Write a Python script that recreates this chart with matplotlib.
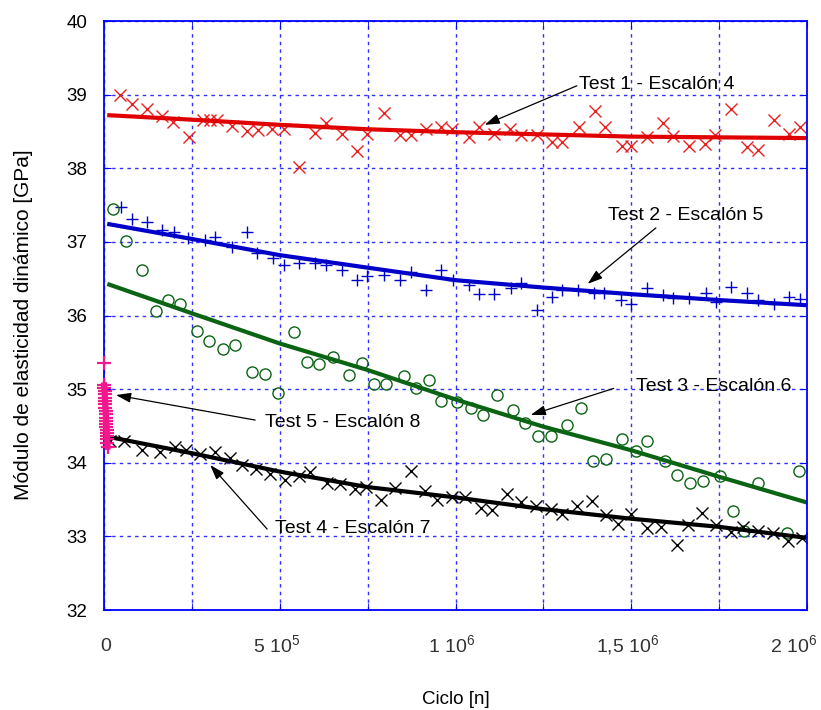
import matplotlib
matplotlib.use('Agg')
import matplotlib.pyplot as plt
from matplotlib.ticker import FixedLocator, NullFormatter

plt.rcParams['font.family'] = ['Liberation Sans', 'DejaVu Sans']
plt.rcParams['mathtext.fontset'] = 'custom'
plt.rcParams['mathtext.rm'] = 'Liberation Sans'

# Test 1 - Escalon 4 (red x)
t1_x = [45.6e3, 79e3, 122e3, 166e3, 197e3, 242e3, 283e3, 302e3, 321e3, 364e3, 406e3, 437e3, 479e3, 511e3,
        556e3, 601e3, 632e3, 677e3, 720e3, 748e3, 796e3, 841e3, 872e3, 915e3, 959e3, 991e3, 1038e3, 1066e3,
        1109e3, 1155e3, 1185e3, 1231e3, 1275e3, 1304e3, 1351e3, 1396e3, 1425e3, 1475e3, 1500e3, 1544e3,
        1589e3, 1620e3, 1665e3, 1709e3, 1738e3, 1783e3, 1829e3, 1860e3, 1905e3, 1950e3, 1981e3]
t1_y = [39.0, 38.87, 38.80, 38.71, 38.63, 38.42, 38.65, 38.65, 38.65, 38.57, 38.50, 38.52, 38.54, 38.54,
        38.02, 38.48, 38.62, 38.47, 38.24, 38.47, 38.75, 38.45, 38.45, 38.54, 38.56, 38.54, 38.42, 38.56,
        38.46, 38.53, 38.45, 38.45, 38.36, 38.36, 38.56, 38.78, 38.56, 38.30, 38.30, 38.42,
        38.61, 38.44, 38.30, 38.33, 38.45, 38.81, 38.29, 38.25, 38.66, 38.46, 38.56]

# Test 2 - Escalon 5 (blue +)
t2_x = [47.5e3, 79e3, 122e3, 164e3, 199e3, 240e3, 288e3, 316e3, 364e3, 406e3, 435e3, 480e3, 511e3, 556e3,
        601e3, 632e3, 677e3, 720e3, 748e3, 796e3, 841e3, 872e3, 917e3, 959e3, 993e3, 1038e3, 1066e3, 1109e3,
        1157e3, 1185e3, 1233e3, 1275e3, 1304e3, 1349e3, 1394e3, 1423e3, 1470e3, 1500e3, 1544e3, 1589e3,
        1620e3, 1665e3, 1712e3, 1741e3, 1785e3, 1829e3, 1860e3, 1905e3, 1950e3, 1981e3]
t2_y = [37.48, 37.31, 37.27, 37.16, 37.14, 37.05, 37.02, 37.06, 36.93, 37.14, 36.85, 36.78, 36.69, 36.71,
        36.72, 36.69, 36.62, 36.48, 36.54, 36.55, 36.48, 36.59, 36.34, 36.62, 36.48, 36.41, 36.29, 36.29,
        36.37, 36.44, 36.07, 36.25, 36.34, 36.35, 36.31, 36.30, 36.21, 36.16, 36.38, 36.28,
        36.24, 36.24, 36.30, 36.19, 36.39, 36.31, 36.21, 36.16, 36.25, 36.23]

# Test 3 - Escalon 6 (green o)
t3_x = [26.5e3, 62e3, 109e3, 147e3, 181e3, 217e3, 264e3, 300e3, 338e3, 373e3, 421e3, 457e3, 494e3, 541e3,
        578e3, 612e3, 650e3, 696e3, 734e3, 769e3, 803e3, 853e3, 888e3, 924e3, 960e3, 1005e3, 1043e3, 1079e3,
        1117e3, 1163e3, 1199e3, 1236e3, 1271e3, 1318e3, 1356e3, 1391e3, 1427e3, 1475e3, 1513e3, 1546e3,
        1595e3, 1630e3, 1668e3, 1704e3, 1752e3, 1788e3, 1821e3, 1860e3, 1943e3, 1978e3]
t3_y = [37.45, 37.01, 36.62, 36.06, 36.21, 36.15, 35.79, 35.66, 35.54, 35.60, 35.23, 35.20, 34.95, 35.78,
        35.37, 35.34, 35.43, 35.19, 35.36, 35.07, 35.07, 35.18, 35.01, 35.12, 34.84, 34.82, 34.75, 34.65,
        34.92, 34.72, 34.54, 34.36, 34.37, 34.51, 34.74, 34.03, 34.05, 34.32, 34.16, 34.30,
        34.03, 33.84, 33.73, 33.75, 33.82, 33.35, 33.08, 33.73, 33.05, 33.89]

# Test 4 - Escalon 7 (black x)
t4_x = [17e3, 57e3, 107e3, 158e3, 202e3, 234e3, 274e3, 316e3, 359e3, 392e3, 433e3, 473e3, 516e3, 556e3,
        587e3, 635e3, 672e3, 715e3, 746e3, 789e3, 829e3, 874e3, 912e3, 948e3, 989e3, 1026e3, 1073e3, 1105e3,
        1145e3, 1185e3, 1228e3, 1271e3, 1304e3, 1345e3, 1387e3, 1429e3, 1461e3, 1500e3, 1544e3, 1584e3,
        1629e3, 1660e3, 1701e3, 1741e3, 1785e3, 1817e3, 1860e3, 1902e3, 1945e3, 1985e3]
t4_y = [34.30, 34.30, 34.17, 34.15, 34.22, 34.18, 34.12, 34.15, 34.07, 33.97, 33.92, 33.85, 33.77, 33.82,
        33.88, 33.72, 33.71, 33.65, 33.67, 33.49, 33.66, 33.89, 33.61, 33.49, 33.54, 33.53, 33.39, 33.36,
        33.57, 33.47, 33.41, 33.37, 33.31, 33.41, 33.48, 33.29, 33.17, 33.31, 33.12, 33.13,
        32.89, 33.15, 33.32, 33.16, 33.06, 33.13, 33.08, 33.04, 32.94, 32.98]

# Test 5 - Escalon 8 (magenta +, all at the very start)
t5_x = [0, 500, 1000, 1500, 2000, 2500, 3000, 3500, 4000, 4500, 5000, 5500, 6000, 6500, 7000,
        7500, 8000, 8500, 9000, 9500, 10000]
t5_y = [35.35, 35.05, 35.02, 34.98, 34.93, 34.88, 34.84, 34.80, 34.75, 34.70, 34.66,
        34.61, 34.57, 34.53, 34.49, 34.45, 34.40, 34.36, 34.32, 34.27, 34.22]

# fitted curves
fit_x = [0.015e6, 0.25e6, 0.5e6, 0.75e6, 1.0e6, 1.25e6, 1.5e6, 1.75e6, 2.0e6]
fit1_y = [38.72, 38.66, 38.59, 38.53, 38.49, 38.46, 38.43, 38.42, 38.41]
fit2_y = [37.24, 37.04, 36.82, 36.65, 36.48, 36.38, 36.29, 36.21, 36.14]
fit3_y = [36.42, 36.03, 35.62, 35.26, 34.86, 34.49, 34.17, 33.81, 33.46]
fit4_y = [34.35, 34.13, 33.88, 33.67, 33.53, 33.37, 33.24, 33.13, 32.98]

x_major = [0, 5e5, 1e6, 1.5e6, 2e6]
x_labels = ['0', '5 10$^5$', '1 10$^6$', '1,5 10$^6$', '2 10$^6$']
x_minor = [2.5e5, 7.5e5, 1.25e6, 1.75e6]
y_ticks = [32, 33, 34, 35, 36, 37, 38, 39, 40]

fig = plt.figure(figsize=(8.21, 7.10), dpi=100)
ax = fig.add_axes([0.1267, 0.1408, 0.8563, 0.8296])

red = '#e00000'
blue = '#0000c8'
green = '#0a6414'
pink = '#f0188c'

ax.plot(t1_x, t1_y, 'x', color='#e82020', ms=9, mew=1.0, ls='none')
ax.plot(t2_x, t2_y, '+', color=blue, ms=9, mew=1.0, ls='none')
ax.plot(t3_x, t3_y, 'o', mfc='none', mec=green, ms=8, mew=1.0, ls='none')
ax.plot(t4_x, t4_y, 'x', color='black', ms=9, mew=1.0, ls='none')
ax.plot(t5_x, t5_y, '+', color=pink, ms=10, mew=1.6, ls='none', clip_on=False, zorder=5)
ax.plot(t5_x[1:], t5_y[1:], '-', color=pink, lw=4.5, clip_on=False, zorder=5)

ax.plot(fit_x, fit1_y, '-', color=red, lw=3)
ax.plot(fit_x, fit2_y, '-', color=blue, lw=3)
ax.plot(fit_x, fit3_y, '-', color=green, lw=3)
ax.plot(fit_x, fit4_y, '-', color='black', lw=3)

ax.set_xlim(0, 2e6)
ax.set_ylim(32, 40)
ax.xaxis.set_major_locator(FixedLocator(x_major))
ax.xaxis.set_minor_locator(FixedLocator(x_minor))
ax.xaxis.set_major_formatter(NullFormatter())
ax.xaxis.set_minor_formatter(NullFormatter())
ax.set_yticks(y_ticks)
ax.set_yticklabels([str(v) for v in y_ticks], fontsize=13.5)

# x tick labels drawn by hand so the last one can sit inside the figure
x_shift = [2, -3, -4, -4, -13]
for xv, lab, dx in zip(x_major, x_labels, x_shift):
    ax.annotate(lab, xy=(xv, 0), xycoords=('data', 'axes fraction'),
                xytext=(dx, -36), textcoords='offset pixels',
                ha='center', va='center', fontsize=14, color='#333333')

ax.tick_params(axis='both', which='both', direction='in', color='#0000ff', length=5,
               top=True, right=True)
ax.tick_params(axis='y', which='major', pad=12)
ax.grid(True, which='both', color='#3030ff', ls=(0, (2.5, 3)), lw=1.0)
ax.set_axisbelow(True)
for s in ax.spines.values():
    s.set_color('#0000ff')
    s.set_linewidth(1.3)

fig.text(456 / 821, 1 - 700 / 710, 'Ciclo [n]', ha='center', va='center', fontsize=13.5)
fig.text(24 / 821, 1 - 325 / 710, 'Módulo de elasticidad dinámico [GPa]', ha='center', va='center',
         rotation=90, fontsize=15)

arrow = dict(arrowstyle='-|>,head_length=0.9,head_width=0.3', color='black', lw=0.9,
             shrinkA=0, shrinkB=0)
labels = ['Test 1 - Escalón 4', 'Test 2 - Escalón 5', 'Test 3 - Escalón 6',
          'Test 5 - Escalón 8', 'Test 4 - Escalón 7']
label_pos = [(1.350e6, 39.14), (1.433e6, 37.36), (1.513e6, 35.03), (0.459e6, 34.55), (0.487e6, 33.11)]
tail_pos = [(1.345e6, 39.12), (1.570e6, 37.19), (1.450e6, 35.01), (0.430e6, 34.58), (0.464e6, 33.10)]
tip_pos = [(1.083e6, 38.59), (1.376e6, 36.43), (1.214e6, 34.65), (0.034e6, 34.92), (0.302e6, 33.97)]

for lab, lp, tp, hp in zip(labels, label_pos, tail_pos, tip_pos):
    ax.annotate('', xy=hp, xytext=tp, arrowprops=arrow)
    ax.text(lp[0], lp[1], lab, ha='left', va='center', fontsize=14)

fig.savefig('out.png', dpi=100)
